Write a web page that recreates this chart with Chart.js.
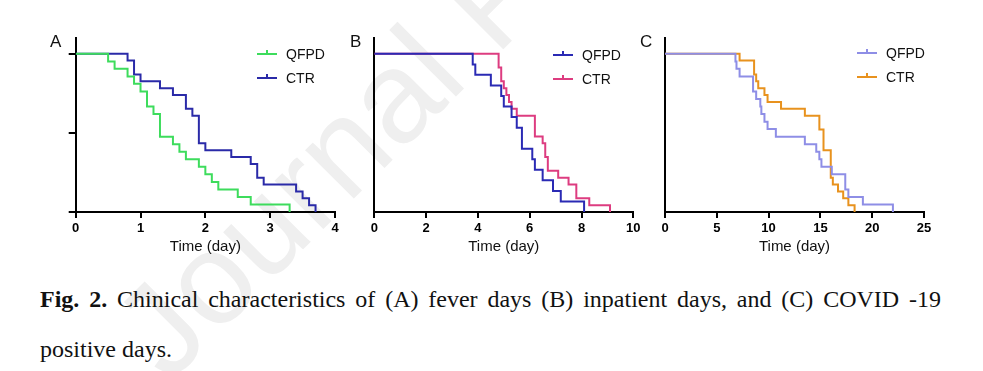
<!DOCTYPE html>
<html>
<head>
<meta charset="utf-8">
<script src="https://cdn.jsdelivr.net/npm/chart.js@4.4.1/dist/chart.umd.min.js"></script>
<style>
  body { margin: 0; background: #fff; width: 983px; height: 371px; overflow: hidden; position: relative; font-family: "Liberation Sans", Arial, sans-serif; }
  .panel { position: absolute; top: 20px; height: 250px; }
  .cap { position: absolute; left: 40px; width: 901px; font-family: "Liberation Serif", "Times New Roman", serif; font-size: 24px; line-height: 26px; color: #111; white-space: nowrap; }
  .wm { position: absolute; left: 190px; top: 255px; font-size: 130px; color: #efefef; transform-origin: 0 100%; transform: rotate(-45deg); white-space: nowrap; font-family: "Liberation Sans", Arial, sans-serif; }
</style>
</head>
<body>
<div class="wm">Journal Pre-proof</div>
<div class="panel" style="left:20px;width:325px"><canvas id="chartA"></canvas></div>
<div class="panel" style="left:345px;width:300px"><canvas id="chartB"></canvas></div>
<div class="panel" style="left:635px;width:320px"><canvas id="chartC"></canvas></div>
<div class="cap" style="top:286px;text-align:justify;text-align-last:justify"><b>Fig. 2.</b> Chinical characteristics of (A) fever days (B) inpatient days, and (C) COVID -19</div>
<div class="cap" style="top:336px">positive days.</div>
<script>
// A: fever days
const feverQfpdTime = [0, 0.5, 0.6, 0.8, 0.9, 1.0, 1.1, 1.2, 1.3, 1.5, 1.6, 1.7, 1.9, 2.0, 2.1, 2.2, 2.5, 2.7, 3.3];
const feverQfpdSurv = [100, 95.2, 90.5, 85.7, 81.0, 76.2, 66.7, 61.9, 47.6, 42.9, 38.1, 33.3, 28.6, 23.8, 19.0, 14.3, 9.5, 4.8, 0];
const feverCtrTime = [0, 0.8, 0.9, 1.0, 1.3, 1.5, 1.7, 1.8, 1.9, 2.0, 2.4, 2.7, 2.8, 2.9, 3.4, 3.5, 3.6, 3.7];
const feverCtrSurv = [100, 95.7, 87.0, 82.6, 78.3, 73.9, 65.2, 60.9, 43.5, 39.1, 34.8, 30.4, 21.7, 17.4, 13.0, 8.7, 4.3, 0];

// B: inpatient days
const inpQfpdTime = [0, 3.8, 3.9, 4.5, 4.9, 5.0, 5.3, 5.5, 5.7, 6.1, 6.2, 6.5, 6.9, 7.2, 8.1];
const inpQfpdSurv = [100, 93.3, 86.7, 80.0, 73.3, 66.7, 60.0, 53.3, 40.0, 33.3, 26.7, 20.0, 13.3, 6.7, 0];
const inpCtrTime = [0, 4.8, 4.9, 5.0, 5.1, 5.2, 5.3, 5.5, 6.2, 6.5, 6.6, 6.7, 7.1, 7.5, 7.8, 8.3, 9.1];
const inpCtrSurv = [100, 91.3, 82.6, 78.3, 73.9, 69.6, 65.2, 60.9, 47.8, 43.5, 34.8, 26.1, 21.7, 17.4, 8.7, 4.3, 0];

// C: COVID-19 positive days
const posQfpdTime = [0, 6.8, 6.9, 7.2, 8.5, 8.8, 9.2, 9.3, 9.6, 9.9, 10.7, 13.5, 14.6, 14.9, 15.1, 16.1, 17.4, 17.7, 19.1, 22.0];
const posQfpdSurv = [100, 95.2, 90.5, 85.7, 76.2, 71.4, 66.7, 61.9, 57.1, 52.4, 47.6, 42.9, 38.1, 33.3, 28.6, 23.8, 14.3, 9.5, 4.8, 0];
const posCtrTime = [0, 7.2, 8.6, 8.8, 9.0, 9.6, 9.9, 11.2, 13.5, 14.9, 15.3, 16.0, 16.2, 16.7, 17.2, 17.7, 18.3];
const posCtrSurv = [100, 95.7, 87.0, 82.6, 78.3, 73.9, 69.6, 65.2, 60.9, 52.2, 39.1, 21.7, 17.4, 13.0, 8.7, 4.3, 0];

const seriesNames = ['QFPD', 'CTR'];
const yTicksA = [0, 50, 100];

function pts(t, s) { return t.map((v, i) => ({ x: v, y: s[i] })); }

// draws panel letter + legend (line with a small censor tick)
const kmLegend = {
  id: 'kmLegend',
  afterDraw(chart, args, o) {
    const ctx = chart.ctx;
    ctx.save();
    ctx.fillStyle = '#111';
    ctx.font = '17px "Liberation Sans", Arial';
    ctx.textBaseline = 'alphabetic';
    ctx.fillText(o.letter, o.letterX, 27);
    ctx.font = '14px "Liberation Sans", Arial';
    ctx.textBaseline = 'middle';
    chart.data.datasets.forEach((ds, i) => {
      const y = o.y[i];
      ctx.strokeStyle = ds.borderColor;
      ctx.lineWidth = 2;
      ctx.beginPath();
      ctx.moveTo(o.x, y); ctx.lineTo(o.x + 20, y);
      ctx.moveTo(o.x + 10, y); ctx.lineTo(o.x + 10, y - 4);
      ctx.stroke();
      ctx.fillStyle = '#111';
      ctx.fillText(ds.label, o.x + 29, y + 1);
    });
    ctx.restore();
  }
};

function makeChart(id, cfg) {
  const xAxis = {
    type: 'linear', min: 0, max: cfg.xmax,
    border: { color: '#000', width: 2 },
    grid: { drawOnChartArea: false, drawTicks: true, tickLength: 6, color: '#000', lineWidth: 2 },
    ticks: { stepSize: cfg.step, color: '#000', padding: 3, font: { family: '"Liberation Sans", Arial', size: 13, weight: 'bold' } },
    title: { display: true, text: 'Time (day)', color: '#111', padding: { top: 0, bottom: 14 }, font: { family: '"Liberation Sans", Arial', size: 15 } },
    afterFit(s) { s.height = 58; }
  };
  const yAxis = {
    min: 0, max: 110,
    border: { color: '#000', width: 2 },
    grid: { display: cfg.yTicks, drawOnChartArea: false, drawTicks: true, tickLength: 7, color: '#000', lineWidth: 2 },
    ticks: { display: false },
    afterBuildTicks(s) { s.ticks = yTicksA.map(v => ({ value: v })); },
    afterFit(s) { s.width = cfg.yw; }
  };
  return new Chart(document.getElementById(id), {
    type: 'line',
    data: {
      datasets: [
        { label: seriesNames[0], data: pts(cfg.t1, cfg.s1), borderColor: cfg.c1 },
        { label: seriesNames[1], data: pts(cfg.t2, cfg.s2), borderColor: cfg.c2 }
      ]
    },
    options: {
      responsive: true, maintainAspectRatio: false, animation: false,
      elements: { line: { borderWidth: 2, stepped: 'before', fill: false }, point: { radius: 0 } },
      layout: { padding: { top: 18, right: cfg.pr, left: 0, bottom: 0 } },
      scales: { x: xAxis, y: yAxis },
      plugins: {
        legend: { display: false }, tooltip: { enabled: false },
        kmLegend: { letter: cfg.letter, letterX: cfg.lx, x: cfg.lgx, y: cfg.lgy }
      }
    },
    plugins: [kmLegend]
  });
}

makeChart('chartA', { xmax: 4, step: 1, yTicks: true, yw: 55.7, pr: 10, letter: 'A', lx: 30, lgx: 237, lgy: [34, 58],
  t1: feverQfpdTime, s1: feverQfpdSurv, c1: '#3ddc5c', t2: feverCtrTime, s2: feverCtrSurv, c2: '#2a2aa8' });
makeChart('chartB', { xmax: 10, step: 2, yTicks: false, yw: 29.3, pr: 11.7, letter: 'B', lx: 5, lgx: 208, lgy: [35, 59],
  t1: inpQfpdTime, s1: inpQfpdSurv, c1: '#2a2ab4', t2: inpCtrTime, s2: inpCtrSurv, c2: '#dd3c80' });
makeChart('chartC', { xmax: 25, step: 5, yTicks: false, yw: 30, pr: 31, letter: 'C', lx: 5, lgx: 222, lgy: [33, 57],
  t1: posQfpdTime, s1: posQfpdSurv, c1: '#8e8ee6', t2: posCtrTime, s2: posCtrSurv, c2: '#e8921e' });
</script>
</body>
</html>
